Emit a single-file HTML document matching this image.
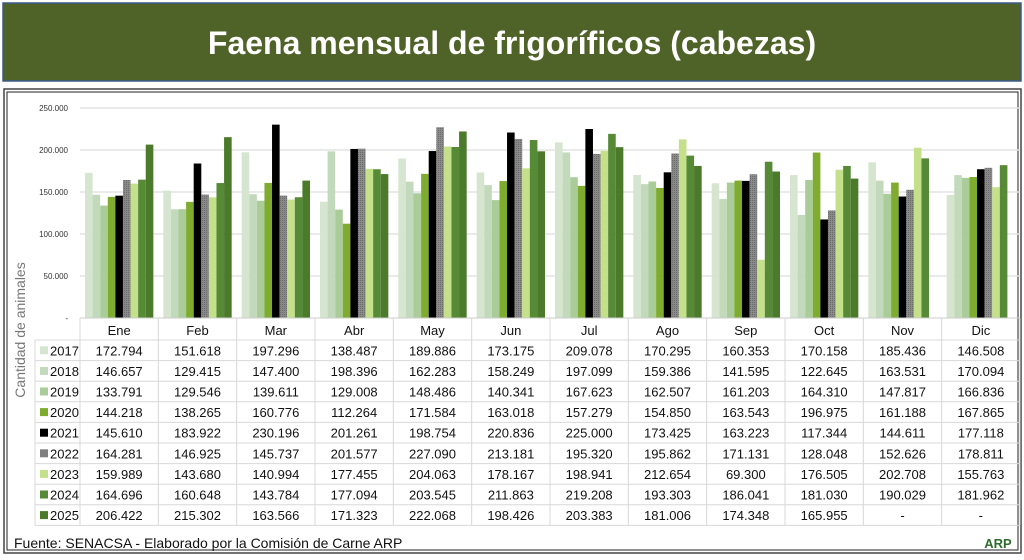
<!DOCTYPE html>
<html><head><meta charset="utf-8"><style>
body{margin:0;background:#fff;width:1024px;height:555px;overflow:hidden;font-family:"Liberation Sans",sans-serif}
</style></head><body>
<svg id="c" width="1024" height="555" xmlns="http://www.w3.org/2000/svg" font-family="Liberation Sans, sans-serif">
<defs><pattern id="hatch" width="2" height="2" patternUnits="userSpaceOnUse"><rect width="2" height="2" fill="#8a8a8a"/><rect width="1" height="1" fill="#6a6a6a"/></pattern></defs>
<rect x="3" y="3" width="1018" height="78" fill="#4f6228" stroke="#3c5a8a" stroke-width="1.5"/>
<text x="512" y="54" text-anchor="middle" font-size="32" font-weight="bold" fill="#fff">Faena mensual de frigoríficos (cabezas)</text>
<rect x="4" y="89" width="1017" height="464" fill="none" stroke="#444" stroke-width="1.5"/>
<rect x="7" y="92" width="1011" height="458" fill="none" stroke="#222" stroke-width="1"/>
<text transform="translate(25,330) rotate(-90)" text-anchor="middle" font-size="14" fill="#777">Cantidad de animales</text>
<g id="grid"></g><g id="bars"></g><g id="table"></g>
<text x="14" y="548" font-size="14" fill="#111">Fuente: SENACSA - Elaborado por la Comisión de Carne ARP</text>
<text x="998" y="548" text-anchor="middle" font-size="13" font-weight="bold" fill="#2e6b2e">ARP</text>
</svg>
<script>
const months=["Ene","Feb","Mar","Abr","May","Jun","Jul","Ago","Sep","Oct","Nov","Dic"];
const years=["2017","2018","2019","2020","2021","2022","2023","2024","2025"];
const yTicks=[0,50000,100000,150000,200000,250000];
const v2017=[172794,151618,197296,138487,189886,173175,209078,170295,160353,170158,185436,146508];
const v2018=[146657,129415,147400,198396,162283,158249,197099,159386,141595,122645,163531,170094];
const v2019=[133791,129546,139611,129008,148486,140341,167623,162507,161203,164310,147817,166836];
const v2020=[144218,138265,160776,112264,171584,163018,157279,154850,163543,196975,161188,167865];
const v2021=[145610,183922,230196,201261,198754,220836,225000,173425,163223,117344,144611,177118];
const v2022=[164281,146925,145737,201577,227090,213181,195320,195862,171131,128048,152626,178811];
const v2023=[159989,143680,140994,177455,204063,178167,198941,212654,69300,176505,202708,155763];
const v2024=[164696,160648,143784,177094,203545,211863,219208,193303,186041,181030,190029,181962];
const v2025=[206422,215302,163566,171323,222068,198426,203383,181006,174348,165955,null,null];
const series=[v2017,v2018,v2019,v2020,v2021,v2022,v2023,v2024,v2025];
const colors=["#d5e5cf","#c3d9bb","#a9cc98","#7fab2e","#000000","url(#hatch)","#c4e08a","#568a36","#4a7a2a"];
const swatch=["#d5e5cf","#c3d9bb","#a9cc98","#7fab2e","#000000","#7f7f7f","#c4e08a","#568a36","#4a7a2a"];
const NS="http://www.w3.org/2000/svg";
const X0=80,X1=1020,Y0=318,Y1=108,MAX=250000,CW=(X1-X0)/12;
const y=v=>Y0-(v/MAX)*(Y0-Y1);
function mk(t,a,p,txt){const e=document.createElementNS(NS,t);for(const k in a)e.setAttribute(k,a[k]);if(txt!=null)e.textContent=txt;p.appendChild(e);return e;}
const fmt=v=>v==null?"-":(v===0?"-":Math.floor(v/1000)+"."+String(v%1000).padStart(3,"0"));
const G=document.getElementById("grid"),B=document.getElementById("bars"),T=document.getElementById("table");
yTicks.forEach(t=>{
 if(t>0){const l=mk("line",{x1:X0,x2:X1,y1:y(t),y2:y(t),stroke:"#e3e3e3","stroke-width":1.5},G);
 
 }
 const tx=mk("text",{x:68,y:y(t)+3,"text-anchor":"end","font-size":8,fill:"#333"},G,t===0?"-":fmt(t));
 
 
});
const bw=(CW-10)/9;
months.forEach((m,i)=>{
 series.forEach((s,j)=>{
  if(s[i]==null)return;
  const r=mk("rect",{x:X0+i*CW+5+j*bw,y:y(s[i]),width:bw,height:Y0-y(s[i]),fill:colors[j]},B);
  
  
 });
});
// table
const RH=20.6,RT=340,LX=35;
mk("line",{x1:X0,x2:X1,y1:Y0,y2:Y0,stroke:"#ccc"},T);
for(let r=0;r<=9;r++)mk("line",{x1:LX,x2:X1,y1:RT+r*RH,y2:RT+r*RH,stroke:"#d8d8d8"},T);
mk("line",{x1:LX,x2:LX,y1:RT,y2:RT+9*RH,stroke:"#d8d8d8"},T);
for(let c=0;c<=12;c++)mk("line",{x1:X0+c*CW,x2:X0+c*CW,y1:Y0,y2:RT+9*RH,stroke:"#d8d8d8"},T);
months.forEach((m,i)=>{
 const t=mk("text",{x:X0+i*CW+CW/2,y:335,"text-anchor":"middle","font-size":13,fill:"#111"},T,m);
 
 
});
years.forEach((yr,j)=>{
 const cy=RT+j*RH+RH/2;
 const sw=mk("rect",{x:40,y:cy-4,width:8,height:8,fill:swatch[j]},T);
 
 
 const lt=mk("text",{x:50,y:cy+5,"font-size":13,fill:"#111"},T,yr);
 
 
 months.forEach((m,i)=>{
  const vt=mk("text",{x:X0+i*CW+CW/2,y:cy+5,"text-anchor":"middle","font-size":13,fill:"#111"},T,fmt(series[j][i]));
  
  
 });
});
</script>
</body></html>
